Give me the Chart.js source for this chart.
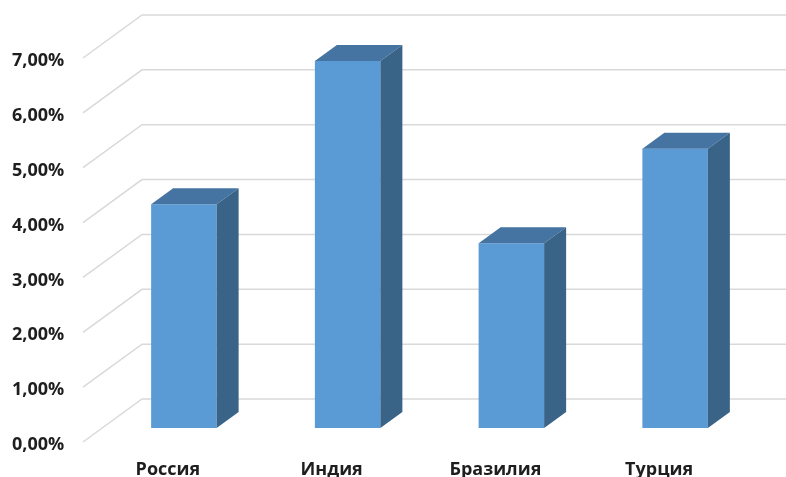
<!DOCTYPE html>
<html>
<head>
<meta charset="utf-8">
<script src="https://cdn.jsdelivr.net/npm/chart.js@4/dist/chart.umd.min.js"></script>
<style>
  body { margin: 0; background: #fff; }
  #wrap { width: 786px; height: 477px; }
</style>
</head>
<body>
<div id="wrap"><canvas id="growth"></canvas></div>
<script>
// data (percent)
const countries = ['Россия', 'Индия', 'Бразилия', 'Турция'];
const growth = [4.08, 6.69, 3.37, 5.09];
const tickValues = [0, 1, 2, 3, 4, 5, 6, 7];

// fake 3D: offsets from the bar plane
const BACK_DX = 40, BACK_DY = -29;
const FRONT_DX = -19, FRONT_DY = 14;
const BAR_DX = 22, BAR_DY = 16;

const FACE = '#5b9bd5';
const TOP = '#4574a2';
const SIDE = '#3a6388';

// grid on the floor/side wall + back wall
const depthGrid = {
  id: 'depthGrid',
  beforeDatasetsDraw(chart) {
    const { ctx, chartArea, scales: { y } } = chart;
    ctx.save();
    ctx.strokeStyle = '#d9d9d9';
    ctx.lineWidth = 1.5;
    tickValues.forEach(v => {
      const yy = y.getPixelForValue(v);
      ctx.beginPath();
      ctx.moveTo(chartArea.left + FRONT_DX, yy + FRONT_DY);
      ctx.lineTo(chartArea.left + BACK_DX, yy + BACK_DY);
      ctx.lineTo(chart.width, yy + BACK_DY);
      ctx.stroke();
    });
    ctx.restore();
  }
};

// top and side faces of the columns
const boxFaces = {
  id: 'boxFaces',
  afterDatasetsDraw(chart) {
    const ctx = chart.ctx;
    chart.getDatasetMeta(0).data.forEach(bar => {
      const { x, y, base, width } = bar.getProps(['x', 'y', 'base', 'width'], true);
      const l = x - width / 2, r = x + width / 2;
      ctx.save();
      ctx.fillStyle = TOP;
      ctx.beginPath();
      ctx.moveTo(l, y);
      ctx.lineTo(l + BAR_DX, y - BAR_DY);
      ctx.lineTo(r + BAR_DX, y - BAR_DY);
      ctx.lineTo(r, y);
      ctx.closePath();
      ctx.fill();
      ctx.fillStyle = SIDE;
      ctx.beginPath();
      ctx.moveTo(r, y);
      ctx.lineTo(r + BAR_DX, y - BAR_DY);
      ctx.lineTo(r + BAR_DX, base - BAR_DY);
      ctx.lineTo(r, base);
      ctx.closePath();
      ctx.fill();
      ctx.restore();
    });
  }
};

const labelFont = { family: '"Open Sans", "Liberation Sans", sans-serif', size: 18, weight: 'bold' };

new Chart(document.getElementById('growth'), {
  type: 'bar',
  data: {
    labels: countries,
    datasets: [{
      data: growth,
      backgroundColor: FACE,
      borderWidth: 0,
      barPercentage: 0.4,
      categoryPercentage: 1
    }]
  },
  options: {
    responsive: true,
    maintainAspectRatio: false,
    animation: false,
    layout: { padding: { top: 44, right: 29, left: 12, bottom: 0 } },
    plugins: { legend: { display: false }, tooltip: { enabled: false } },
    scales: {
      x: {
        grid: { display: false, drawTicks: false },
        border: { display: false },
        ticks: { color: '#1e1e1e', font: labelFont, padding: 31, labelOffset: -16, maxRotation: 0 },
        afterFit: s => { s.height = 49; }
      },
      y: {
        min: 0,
        max: 7,
        grid: { display: false, drawTicks: false },
        border: { display: false },
        ticks: {
          stepSize: 1,
          color: '#1e1e1e',
          font: labelFont,
          padding: 0,
          crossAlign: 'far',
          labelOffset: 17,
          callback: v => v.toFixed(2).replace('.', ',') + '%'
        },
        afterFit: s => { s.width = 90; }
      }
    }
  },
  plugins: [depthGrid, boxFaces]
});
</script>
</body>
</html>
